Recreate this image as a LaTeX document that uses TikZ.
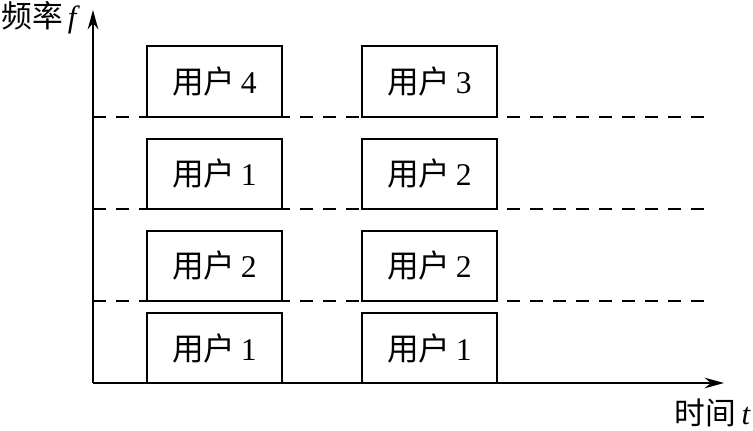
\documentclass[tikz,border=0pt]{standalone}
\usepackage{fontspec}
\setmainfont{Liberation Serif}
\newfontfamily\cjk{Noto Sans CJK SC}
\usetikzlibrary{arrows.meta}

\begin{document}
\begin{tikzpicture}[x=0.02cm,y=-0.02cm,
  userbox/.style={draw, rectangle, line width=1.4pt, minimum width=135*0.02cm,
    minimum height=70*0.02cm, inner sep=0pt, font=\fontsize{18}{20}\selectfont},
  bandline/.style={line width=1.1pt, dash pattern=on 7.4pt off 5.7pt},
  axisline/.style={line width=1.3pt, -{Stealth[length=11pt,width=6pt]}}]
\useasboundingbox (0,0) rectangle (753,431);
% axes
\coordinate (O) at (93,383);
\coordinate (fend) at (93,10);
\coordinate (tend) at (724,383);
\draw[axisline] (O) -- (fend);
\draw[axisline] (O) -- (tend);
\node[anchor=west, font=\fontsize{17.5}{20}\selectfont, inner sep=0pt] (flabel) at (1,18){{\cjk 频率}\,\textit{f}};
\node[anchor=east, font=\fontsize{17.5}{20}\selectfont, inner sep=0pt] (tlabel) at (751,413){{\cjk 时间}\,\textit{t}};
% band borders
\coordinate (b1l) at (93,117); \coordinate (b1r) at (710,117);
\coordinate (b2l) at (93,209); \coordinate (b2r) at (710,209);
\coordinate (b3l) at (93,301); \coordinate (b3r) at (710,301);
\draw[bandline] (b1l) -- (b1r);
\draw[bandline] (b2l) -- (b2r);
\draw[bandline] (b3l) -- (b3r);
% users, first slot
\node[userbox, minimum height=71*0.02cm] (s1u4) at (214.5,81.5){{\cjk 用户}\,4};
\node[userbox] (s1u1) at (214.5,174){{\cjk 用户}\,1};
\node[userbox] (s1u2) at (214.5,266){{\cjk 用户}\,2};
\node[userbox] (s1u1b) at (214.5,348){{\cjk 用户}\,1};
% users, second slot
\node[userbox, minimum height=71*0.02cm] (s2u3) at (429.5,81.5){{\cjk 用户}\,3};
\node[userbox] (s2u2) at (429.5,174){{\cjk 用户}\,2};
\node[userbox] (s2u2b) at (429.5,266){{\cjk 用户}\,2};
\node[userbox] (s2u1) at (429.5,348){{\cjk 用户}\,1};
\end{tikzpicture}
\end{document}
